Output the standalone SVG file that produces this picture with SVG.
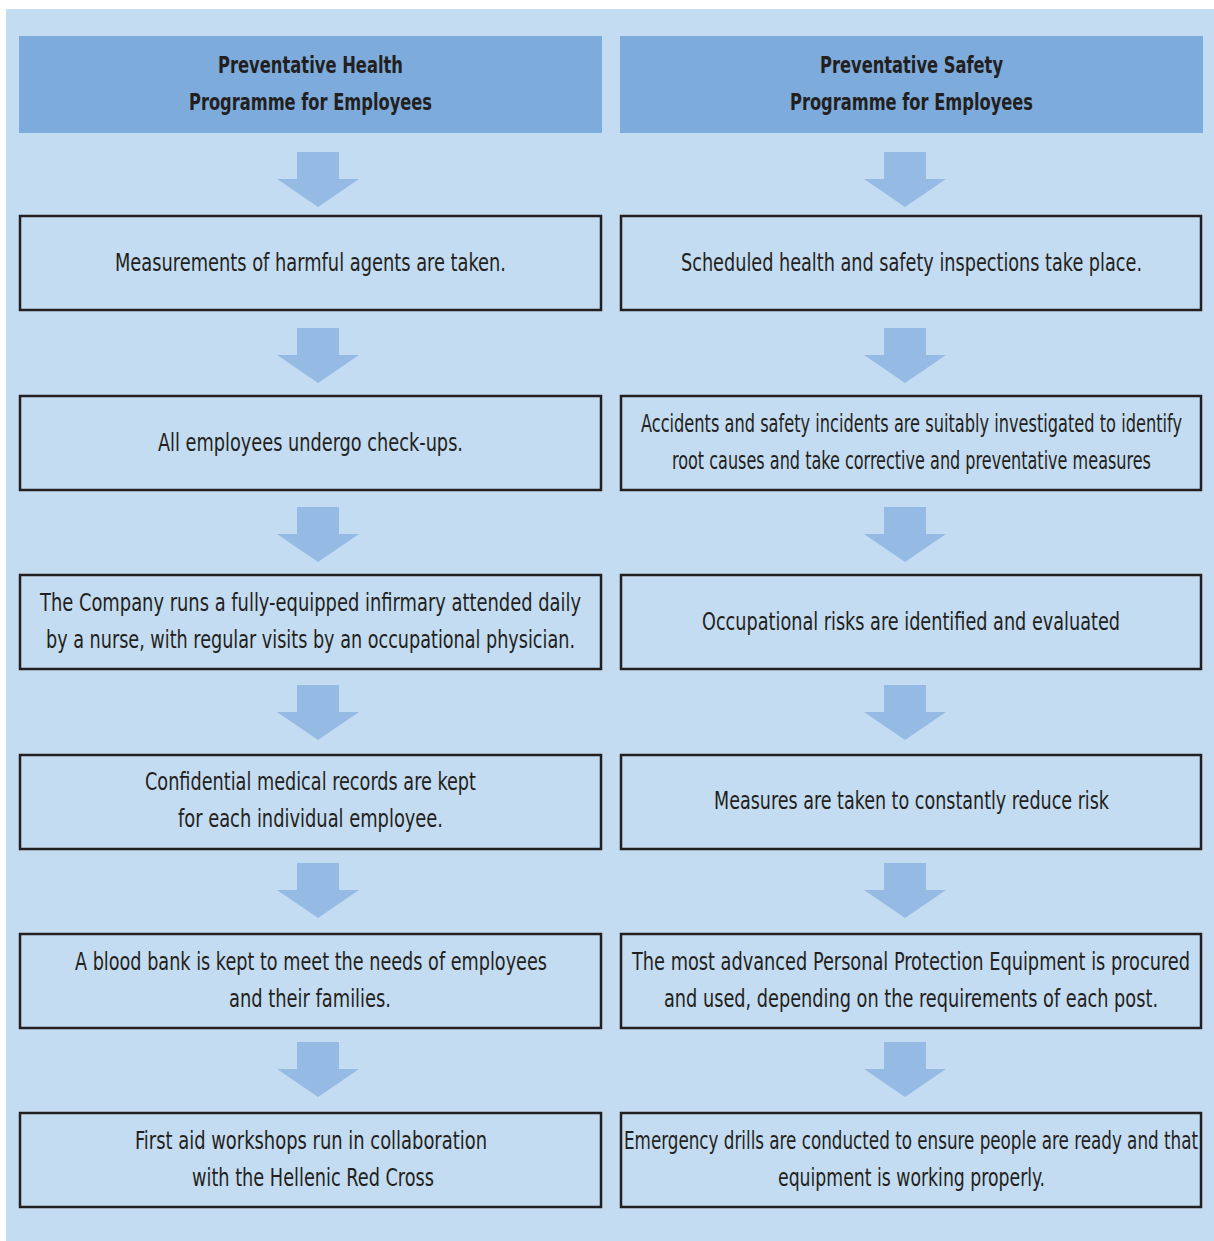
<svg xmlns="http://www.w3.org/2000/svg" width="1214" height="1241" viewBox="0 0 1214 1241">
<style>
.hdr{fill:#7cabdc}
.box{fill:none;stroke:#231f20;stroke-width:2.5}
.arr{fill:#95bbe5}
text{font-family:"Liberation Sans Narrow","DejaVu Sans Condensed","Liberation Sans",sans-serif;fill:#231f20;text-anchor:middle}
.t{font-size:25px}
.h{font-size:23px;font-weight:bold}
</style>
<defs>
<path id="arrow" d="M-21,0 H21 V27 H41 L0,55 L-41,27 H-21 Z"/>
</defs>
<rect x="6" y="9" width="1208" height="1232" fill="#c4dcf1"/>
<g id="connectors">
<use href="#arrow" class="arr" x="318" y="152"/>
<use href="#arrow" class="arr" x="905" y="152"/>
<use href="#arrow" class="arr" x="318" y="328"/>
<use href="#arrow" class="arr" x="905" y="328"/>
<use href="#arrow" class="arr" x="318" y="507"/>
<use href="#arrow" class="arr" x="905" y="507"/>
<use href="#arrow" class="arr" x="318" y="685"/>
<use href="#arrow" class="arr" x="905" y="685"/>
<use href="#arrow" class="arr" x="318" y="863"/>
<use href="#arrow" class="arr" x="905" y="863"/>
<use href="#arrow" class="arr" x="318" y="1042"/>
<use href="#arrow" class="arr" x="905" y="1042"/>
</g>
<g id="hdr-health">
<rect class="hdr" x="19" y="36" width="583" height="97"/>
<text class="h" x="310.5" y="73" textLength="185" lengthAdjust="spacingAndGlyphs">Preventative Health</text>
<text class="h" x="310.5" y="110" textLength="243" lengthAdjust="spacingAndGlyphs">Programme for Employees</text>
</g>
<g id="hdr-safety">
<rect class="hdr" x="620" y="36" width="583" height="97"/>
<text class="h" x="911.5" y="73" textLength="183" lengthAdjust="spacingAndGlyphs">Preventative Safety</text>
<text class="h" x="911.5" y="110" textLength="243" lengthAdjust="spacingAndGlyphs">Programme for Employees</text>
</g>
<g id="h1">
<rect class="box" x="20" y="216" width="581" height="94"/>
<text class="t" x="310.5" y="271" textLength="391" lengthAdjust="spacingAndGlyphs">Measurements of harmful agents are taken.</text>
</g>
<g id="s1">
<rect class="box" x="621" y="216" width="580" height="94"/>
<text class="t" x="911.5" y="271" textLength="461" lengthAdjust="spacingAndGlyphs">Scheduled health and safety inspections take place.</text>
</g>
<g id="h2">
<rect class="box" x="20" y="396" width="581" height="94"/>
<text class="t" x="310.5" y="451" textLength="305" lengthAdjust="spacingAndGlyphs">All employees undergo check-ups.</text>
</g>
<g id="s2">
<rect class="box" x="621" y="396" width="580" height="94"/>
<text class="t" x="911.5" y="432" textLength="541" lengthAdjust="spacingAndGlyphs">Accidents and safety incidents are suitably investigated to identify</text>
<text class="t" x="911.5" y="469" textLength="479" lengthAdjust="spacingAndGlyphs">root causes and take corrective and preventative measures</text>
</g>
<g id="h3">
<rect class="box" x="20" y="575" width="581" height="94"/>
<text class="t" x="310.5" y="611" textLength="541" lengthAdjust="spacingAndGlyphs">The Company runs a fully-equipped infirmary attended daily</text>
<text class="t" x="310.5" y="648" textLength="529" lengthAdjust="spacingAndGlyphs">by a nurse, with regular visits by an occupational physician.</text>
</g>
<g id="s3">
<rect class="box" x="621" y="575" width="580" height="94"/>
<text class="t" x="911" y="630" textLength="418" lengthAdjust="spacingAndGlyphs">Occupational risks are identified and evaluated</text>
</g>
<g id="h4">
<rect class="box" x="20" y="755" width="581" height="94"/>
<text class="t" x="310.5" y="790" textLength="331" lengthAdjust="spacingAndGlyphs">Confidential medical records are kept</text>
<text class="t" x="310.5" y="827" textLength="265" lengthAdjust="spacingAndGlyphs">for each individual employee.</text>
</g>
<g id="s4">
<rect class="box" x="621" y="755" width="580" height="94"/>
<text class="t" x="911.5" y="809" textLength="395" lengthAdjust="spacingAndGlyphs">Measures are taken to constantly reduce risk</text>
</g>
<g id="h5">
<rect class="box" x="20" y="934" width="581" height="94"/>
<text class="t" x="311" y="970" textLength="472" lengthAdjust="spacingAndGlyphs">A blood bank is kept to meet the needs of employees</text>
<text class="t" x="310" y="1007" textLength="162" lengthAdjust="spacingAndGlyphs">and their families.</text>
</g>
<g id="s5">
<rect class="box" x="621" y="934" width="580" height="94"/>
<text class="t" x="911" y="970" textLength="558" lengthAdjust="spacingAndGlyphs">The most advanced Personal Protection Equipment is procured</text>
<text class="t" x="911" y="1007" textLength="494" lengthAdjust="spacingAndGlyphs">and used, depending on the requirements of each post.</text>
</g>
<g id="h6">
<rect class="box" x="20" y="1113" width="581" height="94"/>
<text class="t" x="311" y="1149" textLength="352" lengthAdjust="spacingAndGlyphs">First aid workshops run in collaboration</text>
<text class="t" x="313" y="1186" textLength="242" lengthAdjust="spacingAndGlyphs">with the Hellenic Red Cross</text>
</g>
<g id="s6">
<rect class="box" x="621" y="1113" width="580" height="94"/>
<text class="t" x="911" y="1149" textLength="574" lengthAdjust="spacingAndGlyphs">Emergency drills are conducted to ensure people are ready and that</text>
<text class="t" x="911.5" y="1186" textLength="267" lengthAdjust="spacingAndGlyphs">equipment is working properly.</text>
</g>
</svg>
